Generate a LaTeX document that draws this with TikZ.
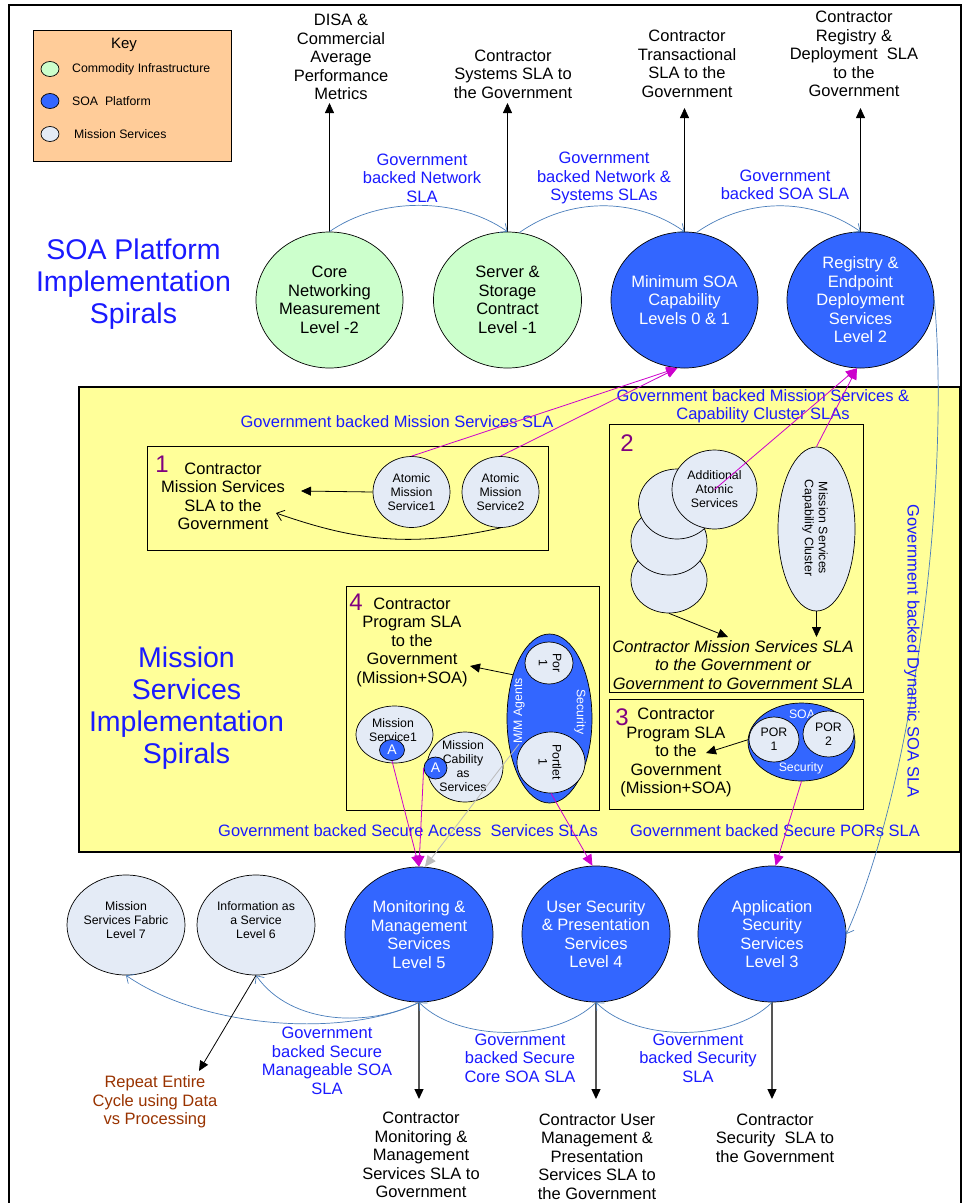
\documentclass[tikz,border=0pt]{standalone}
\usepackage{fontspec}
\setmainfont{Liberation Sans}
\usetikzlibrary{shapes.geometric,arrows.meta}

\definecolor{infragreen}{HTML}{CCFFCC}
\definecolor{soablue}{HTML}{3366FF}
\definecolor{misslight}{HTML}{E4EBF6}
\definecolor{keyorange}{HTML}{FFCC99}
\definecolor{zoneyellow}{HTML}{FFFF99}
\definecolor{slablue}{HTML}{1A1AFF}
\definecolor{linkblue}{HTML}{4A7EBB}
\definecolor{slamagenta}{HTML}{CC00CC}
\definecolor{spiralpurple}{HTML}{800080}
\definecolor{repeatbrown}{HTML}{993300}
\definecolor{stemgray}{HTML}{555555}
\definecolor{agentgray}{HTML}{BBBBBB}

\tikzset{
  txt/.style={font=\fontsize{16.5}{18.5}\selectfont, align=center, inner sep=0pt},
  smalltxt/.style={font=\fontsize{12.3}{14}\selectfont, align=center, inner sep=0pt},
  slatxt/.style={txt, text=slablue},
  titletxt/.style={font=\fontsize{28.5}{32}\selectfont, align=center, inner sep=0pt, text=slablue},
  spiralno/.style={font=\fontsize{24}{24}\selectfont, inner sep=0pt, text=spiralpurple},
  bubble/.style={ellipse, draw=black, line width=0.7pt, inner sep=-8pt},
  infra/.style={txt, bubble, fill=infragreen},
  platform/.style={txt, bubble, fill=soablue, text=white},
  mission/.style={smalltxt, bubble, fill=misslight},
  plainbubble/.style={bubble, fill=misslight},
  agentdot/.style={ellipse, draw=black, line width=0.7pt, inner sep=0pt, fill=soablue, text=white,
                   font=\fontsize{14}{14}\selectfont},
  keydot/.style={ellipse, draw=black, line width=0.7pt, inner sep=0pt, minimum width=18pt, minimum height=15pt},
  panel/.style={draw=black, line width=0.8pt},
  upto/.style={draw=black, line width=0.8pt, -{Triangle[length=10pt,width=9pt]}},
  downto/.style={draw=stemgray, line width=1.3pt, -{Triangle[length=10pt,width=9pt,color=black]}},
  slalink/.style={draw=linkblue, line width=0.7pt, -{Straight Barb[length=6pt,width=11pt]}},
  plainlink/.style={draw=black, line width=0.8pt, -{Straight Barb[length=7pt,width=11pt]}},
  secured/.style={draw=slamagenta, line width=0.8pt, -{Triangle[length=11pt,width=10pt]}},
  agentlink/.style={draw=agentgray, line width=0.8pt, -{Triangle[length=11pt,width=10pt]}},
}

\begin{document}
\begin{tikzpicture}[x=1pt,y=-1pt]
\useasboundingbox (0,0) rectangle (963,1203);
\fill[white] (0,0) rectangle (963,1203);
\draw[line width=1.2pt] (9,1210) -- (9,5) -- (961,5) -- (961,1210);

% ---------- key ----------
\draw[panel, fill=keyorange] (33,30) rectangle (231,161);
\node[font=\fontsize{15}{18}\selectfont, inner sep=0pt] (keytitle) at (124,45) {Key};
\node[keydot, fill=infragreen] (keyinfra) at (50,69) {};
\node[keydot, fill=soablue] (keysoa) at (50,101) {};
\node[keydot, fill=misslight] (keymission) at (50,134) {};
\node[smalltxt, anchor=west] (keyinfratxt) at (72,69) {Commodity Infrastructure};
\node[smalltxt, anchor=west] (keysoatxt) at (72,101) {SOA~~Platform};
\node[smalltxt, anchor=west] (keymissiontxt) at (74,134) {Mission Services};

% ---------- titles ----------
\node[titletxt] (soatitle) at (133.5,284) {SOA Platform\\Implementation\\Spirals};

% ---------- SOA platform spirals ----------
\node[infra, minimum width=147pt, minimum height=136pt] (core) at (329.5,300) {Core\\Networking\\Measurement\\Level -2};
\node[infra, minimum width=148pt, minimum height=136pt] (server) at (507.5,300) {Server \&\\Storage\\Contract\\Level -1};
\node[platform, minimum width=147pt, minimum height=136pt] (minsoa) at (684.5,300) {Minimum SOA\\Capability\\Levels 0 \& 1};
\node[platform, minimum width=147pt, minimum height=136pt] (registry) at (860.5,300) {Registry \&\\Endpoint\\Deployment\\Services\\Level 2};

\node[txt] (disa) at (341,57) {DISA \&\\Commercial\\Average\\Performance\\Metrics};
\node[txt] (systemsla) at (513,74) {Contractor\\Systems SLA to\\the Government};
\node[txt] (transsla) at (687,64) {Contractor\\Transactional\\SLA to the\\Government};
\node[txt] (regsla) at (854,54) {Contractor\\Registry \&\\Deployment~~SLA\\to the\\Government};

\coordinate (disatip) at (329.5,103);
\coordinate (systip) at (507.5,103);
\coordinate (transtip) at (684.5,108);
\coordinate (regtip) at (860.5,108);
\draw[upto] (core.north) -- (disatip);
\draw[upto] (server.north) -- (systip);
\draw[upto] (minsoa.north) -- (transtip);
\draw[upto] (registry.north) -- (regtip);

\draw[slalink] (core.north) .. controls +(50,-35) and +(-50,-35) .. (server.north);
\draw[slalink] (server.80) .. controls +(50,-35) and +(-50,-35) .. (minsoa.north);
\draw[slalink] (minsoa.80) .. controls +(50,-35) and +(-50,-35) .. (registry.north);
\node[slatxt] (netsla) at (422,178) {Government\\backed Network\\SLA};
\node[slatxt] (netsyssla) at (604,178) {Government\\backed Network \&\\Systems SLAs};
\node[slatxt] (soasla) at (785,185) {Government\\backed SOA SLA};

% ---------- mission services zone ----------
\draw[line width=2.5pt, fill=zoneyellow] (79,387) rectangle (960,852);
\node[titletxt] (misstitle) at (186.5,708) {Mission\\Services\\Implementation\\Spirals};

% spiral 1
\draw[panel] (147,446) rectangle (548,550);
\node[spiralno] (no1) at (162,464) {1};
\node[txt] (c1sla) at (223,496.5) {Contractor\\Mission Services\\SLA to the\\Government};
\node[mission, minimum width=77pt, minimum height=71pt] (ams1) at (411.5,492) {Atomic\\Mission\\Service1};
\node[mission, minimum width=77pt, minimum height=71pt] (ams2) at (500.5,492) {Atomic\\Mission\\Service2};
\coordinate (c1tip) at (301,491);
\coordinate (c1curvetip) at (276,513);
\draw[upto] (ams1.west) -- (c1tip);
\draw[plainlink] (ams2.south) .. controls +(-90,20) and +(80,28) .. (c1curvetip);
\node[slatxt] (misssla) at (397,422) {Government backed Mission Services SLA};

% spiral 2
\draw[panel] (609,424) rectangle (863,692);
\node[spiralno] (no2) at (627,443) {2};
\node[plainbubble, minimum width=76pt, minimum height=66pt] (stackc) at (669,580) {};
\node[plainbubble, minimum width=76pt, minimum height=68pt] (stackb) at (669,541) {};
\node[plainbubble, minimum width=77pt, minimum height=70pt] (stacka) at (677,504) {};
\node[mission, minimum width=85pt, minimum height=79pt] (addl) at (714.5,489.5) {Additional\\Atomic\\Services};
\node[plainbubble, minimum width=77pt, minimum height=164pt] (mscc) at (816.5,529) {};
\node[smalltxt, rotate=-90] (mscctxt) at (815,528) {Mission Services\\Capability Cluster};
\coordinate (c2tipa) at (728,637);
\coordinate (c2tipb) at (816.5,637);
\draw[upto] (stackc.south) -- (c2tipa);
\draw[upto] (mscc.south) -- (c2tipb);
\node[txt, font=\fontsize{16.5}{18.5}\selectfont\itshape] (c2sla) at (733,665) {Contractor Mission Services SLA\\to the Government or\\Government to Government SLA};
\node[slatxt] (clustersla) at (763,406) {Government backed Mission Services \&\\Capability Cluster SLAs};

% spiral 3
\draw[panel] (609,699) rectangle (863,809);
\node[spiralno] (no3) at (622,717) {3};
\node[txt] (c3sla) at (676,752.5) {Contractor\\Program SLA\\to the\\Government\\(Mission+SOA)};
\node[bubble, fill=soablue, minimum width=107pt, minimum height=78pt] (soa3) at (801.5,742) {};
\node[smalltxt, text=white] (soa3top) at (802,714) {SOA};
\node[smalltxt, text=white] (soa3sec) at (801,768) {Security};
\node[mission, minimum width=50pt, minimum height=45pt] (por31) at (774,739.5) {POR\\1};
\node[mission, minimum width=51pt, minimum height=46pt] (por32) at (828.5,734) {POR\\2};
\coordinate (c3tip) at (706,753);
\draw[upto] (por31.west) -- (c3tip);
\node[slatxt] (porsla) at (775,831) {Government backed Secure PORs SLA};

% spiral 4
\draw[panel] (346,586) rectangle (599,810);
\node[spiralno] (no4) at (356,602) {4};
\node[txt] (c4sla) at (412,642) {Contractor\\Program SLA\\to the\\Government\\(Mission+SOA)};
\node[bubble, fill=soablue, minimum width=85pt, minimum height=169pt] (sec4) at (549.5,718.5) {};
\node[plainbubble, minimum width=48pt, minimum height=42pt] (por4) at (549,663) {};
\node[smalltxt, rotate=-90] (por4txt) at (550,663) {Por\\1};
\node[plainbubble, minimum width=68pt, minimum height=61pt] (portlet) at (551,762.5) {};
\node[smalltxt, rotate=-90] (portlettxt) at (550,762) {Portlet\\1};
\node[smalltxt, text=white, rotate=90] (mmagents) at (519,711) {M/M Agents};
\node[smalltxt, text=white, rotate=-90] (sec4txt) at (580,712) {Security};
\node[mission, minimum width=77pt, minimum height=57pt] (ms1) at (394.5,734.5) {};
\node[smalltxt] (ms1txt) at (393,730) {Mission\\Service1};
\node[agentdot, minimum width=25pt, minimum height=21pt] (a1) at (392,750) {A};
\node[mission, minimum width=76pt, minimum height=70pt] (mcas) at (465,767) {};
\node[smalltxt] (mcastxt) at (463,766) {Mission\\Cability\\as\\Services};
\node[agentdot, minimum width=23pt, minimum height=22pt] (a2) at (435.5,768) {A};
\coordinate (c4tip) at (470,666);
\draw[upto] (sec4.130) -- (c4tip);
\node[slatxt] (accesssla) at (408,831) {Government backed Secure Access~~Services SLAs};

% ---------- mission & security levels ----------
\node[mission, minimum width=118pt, minimum height=100pt] (level7) at (126,925) {};
\node[smalltxt] (level7txt) at (126,920) {Mission\\Services Fabric\\Level 7};
\node[mission, minimum width=118pt, minimum height=100pt] (level6) at (256,925) {};
\node[smalltxt] (level6txt) at (256,920) {Information as\\a Service\\Level 6};
\node[platform, minimum width=148pt, minimum height=135pt] (monitor) at (419,934.5) {Monitoring \&\\Management\\Services\\Level 5};
\node[platform, minimum width=148pt, minimum height=136pt] (usersec) at (596,934) {};
\node[txt, text=white] (usersectxt) at (596,934) {User Security\\\& Presentation\\Services\\Level 4};
\node[platform, minimum width=148pt, minimum height=136pt] (appsec) at (772,934) {Application\\Security\\Services\\Level 3};

% SLA links into the platform
\draw[secured] (ams1.north) -- (minsoa.264);
\draw[secured] (ams2.north) -- (minsoa.264);
\draw[secured] (addl.center) -- (registry.267);
\draw[secured] (mscc.north) -- (registry.267);
\draw[secured] (a1.south) -- (monitor.north);
\draw[secured] (a2.west) -- (monitor.north);
\draw[agentlink] (mmagents.west) -- (monitor.85);
\draw[secured] (portlet.south) -- (usersec.93);
\draw[secured] (soa3.south) -- (appsec.87);

\draw[slalink] (registry.east) .. controls +(16,180) and +(69,-154) .. (appsec.east);
\node[slatxt, rotate=-90] (dynsla) at (912,651) {Government backed Dynamic SOA SLA};

% downward contractor SLAs
\coordinate (montip) at (419,1099);
\coordinate (usertip) at (596,1099);
\coordinate (apptip) at (772,1099);
\draw[downto] (monitor.south) -- (montip);
\draw[downto] (usersec.south) -- (usertip);
\draw[downto] (appsec.south) -- (apptip);
\node[txt] (monsla) at (421,1155) {Contractor\\Monitoring \&\\Management\\Services SLA to\\Government};
\node[txt] (usersla) at (597,1156.5) {Contractor User\\Management \&\\Presentation\\Services SLA to\\the Government};
\node[txt] (appsla) at (775,1138) {Contractor\\Security~~SLA to\\the Government};

% government backed links along the bottom
\draw[slalink] (monitor.south) .. controls +(-70,35) and +(80,55) .. (level7.south);
\draw[slalink] (monitor.south) .. controls +(-50,25) and +(35,50) .. (level6.south);
\draw[slalink] (usersec.south) .. controls +(-40,40) and +(40,40) .. (monitor.south);
\draw[slalink] (appsec.south) .. controls +(-40,40) and +(40,40) .. (usersec.south);
\node[slatxt] (mansla) at (327,1061) {Government\\backed Secure\\Manageable SOA\\SLA};
\node[slatxt] (coresla) at (520,1058) {Government\\backed Secure\\Core SOA SLA};
\node[slatxt] (secsla) at (698,1058) {Government\\backed Security\\SLA};

% repeat the cycle
\coordinate (reptip) at (199,1071);
\draw[upto] (level6.south) -- (reptip);
\node[txt, text=repeatbrown] (repeat) at (155,1102) {Repeat Entire\\Cycle using Data\\vs Processing};
\end{tikzpicture}
\end{document}
